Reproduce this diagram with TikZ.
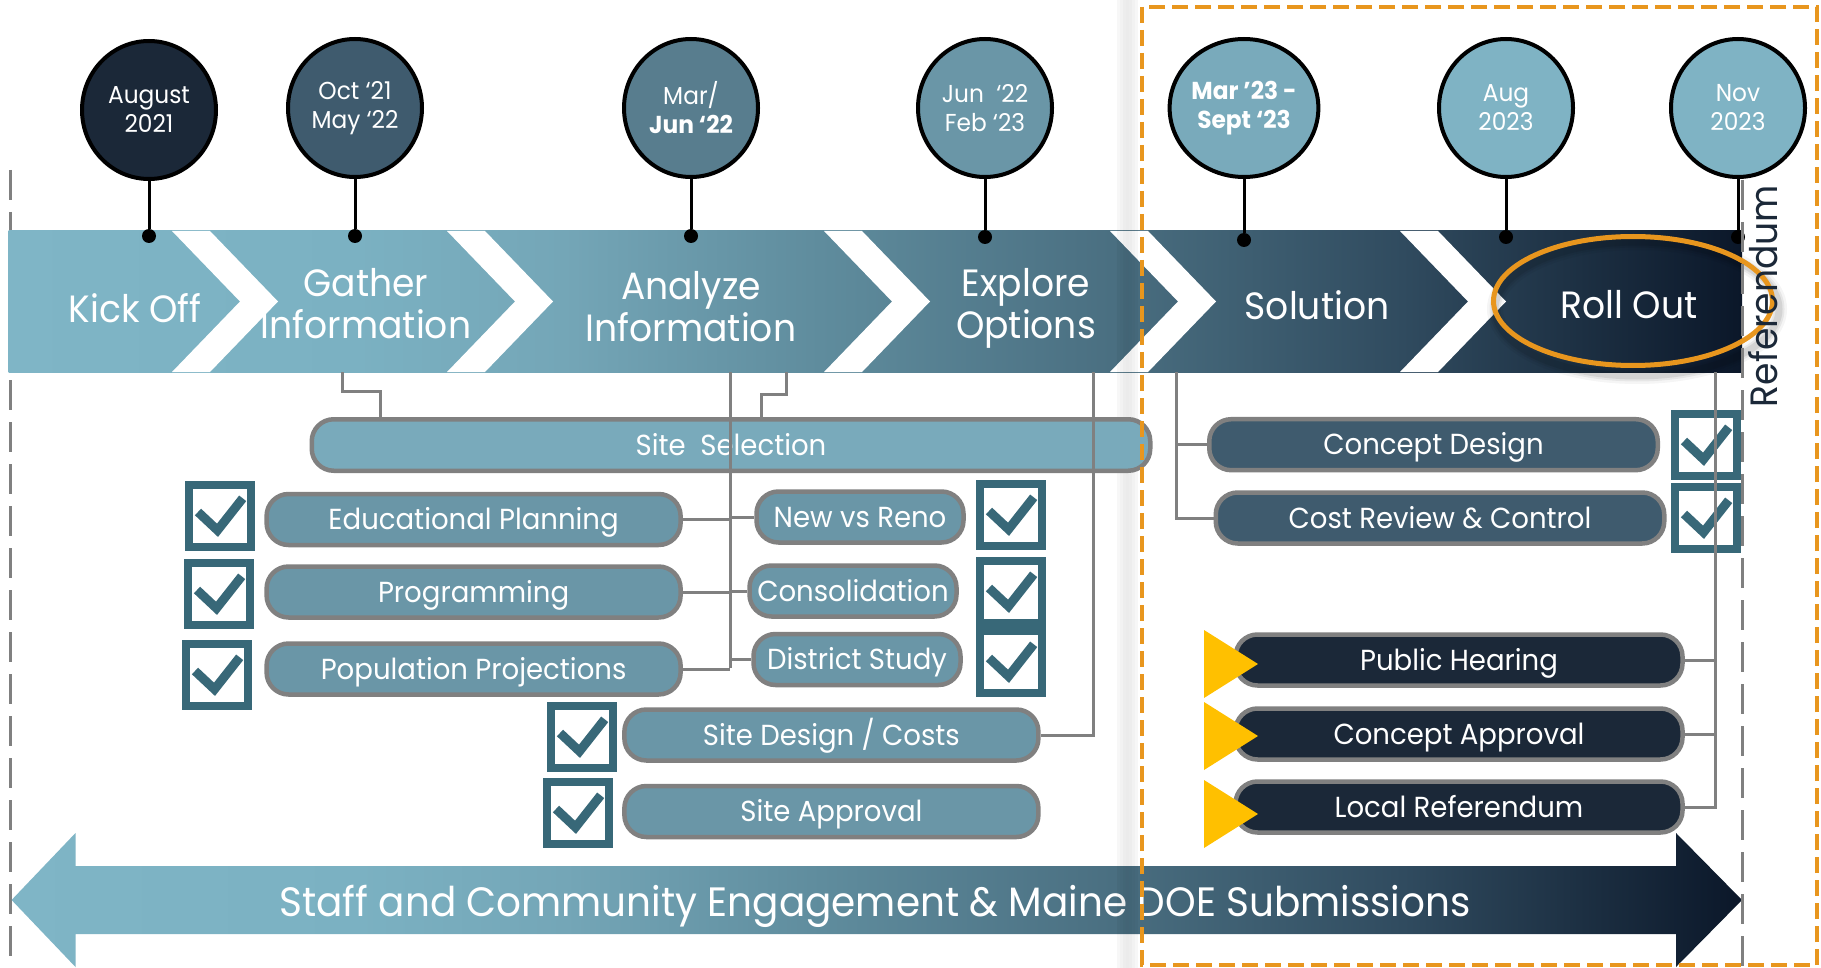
\documentclass[tikz,border=0pt]{standalone}
\usepackage{fontspec}
\setmainfont[FakeStretch=0.95]{Poppins}
\usetikzlibrary{shapes.geometric,calc}
\definecolor{bA}{HTML}{7FB5C6}
\definecolor{bB}{HTML}{7BB1C2}
\definecolor{bC}{HTML}{74A6B7}
\definecolor{bD}{HTML}{5F8C9D}
\definecolor{bE}{HTML}{4A6F81}
\definecolor{bF}{HTML}{304B5F}
\definecolor{bG}{HTML}{0B1729}
\definecolor{navy}{HTML}{1B2838}
\definecolor{slate}{HTML}{3F5B6E}
\definecolor{steel}{HTML}{587D8E}
\definecolor{tealg}{HTML}{6A96A7}
\definecolor{teall}{HTML}{79AABB}
\definecolor{teallt}{HTML}{7FB3C4}
\definecolor{chk}{HTML}{386878}
\definecolor{lgray}{HTML}{808080}
\definecolor{orng}{HTML}{E8961E}
\definecolor{gold}{HTML}{FFC000}
\pgfdeclarehorizontalshading{bandsh}{100bp}{color(0bp)=(bA); color(25bp)=(bA); color(35bp)=(bB); color(41bp)=(bC); color(48.4bp)=(bD); color(56.8bp)=(bE); color(65.2bp)=(bF); color(75bp)=(bG); color(100bp)=(bG)}
\newcommand\bandfont{\fontsize{38}{42}\selectfont}
\newcommand\datefont{\fontsize{24.5}{29}\selectfont}
\newcommand\boxfont{\fontsize{29}{32}\selectfont}
\newcommand\arrowfont{\fontsize{41}{44}\selectfont}
\newcommand\reffont{\fontsize{38}{42}\selectfont}
\tikzset{
  conn/.style={draw=lgray, line width=3pt},
  stem/.style={draw=black, line width=3pt},
  dot/.style={circle, fill=black, minimum size=14pt, inner sep=0pt},
  datebub/.style={ellipse, draw=black, line width=4pt, minimum width=134pt, minimum height=138pt, inner sep=0pt, text=white, align=center, font=\datefont},
  bandtxt/.style={text=white, align=center, font=\bandfont, inner sep=0pt},
  box/.style={rounded corners=22pt, draw=lgray, line width=4.5pt, text=white, font=\boxfont, inner sep=0pt, text height=20.5pt, text depth=0pt},
  chkbox/.style={draw=chk, line width=8pt, fill=white, minimum width=62pt, minimum height=62pt, inner sep=0pt,
    path picture={\draw[chk, line width=9pt, line join=miter]
      ([shift={(9,27)}]path picture bounding box.north west) --
      ([shift={(28.5,45.3)}]path picture bounding box.north west) --
      ([shift={(53.7,13.3)}]path picture bounding box.north west);}},
  goldtri/.style={fill=gold},
  gdash/.style={draw=lgray, line width=3pt, dash pattern=on 30pt off 12pt}
}
\begin{document}
\begin{tikzpicture}[x=1pt,y=-1pt]
\useasboundingbox[fill=white] (0,0) rectangle (1821,968);
% left dashed line
\draw[gdash] (10,170) -- (10,968);
% chevron band
\shade[shading=bandsh] (8.7,231) rectangle (1742,372);
\foreach \a in {172,447,824,1110,1400}{
  \fill[white] (\a,231) -- (\a+38,231) -- (\a+106,301.5) -- (\a+38,372) -- (\a,372) -- (\a+68,301.5) -- cycle;
}
% bottom arrow
\shade[shading=bandsh] (11.6,900) -- (75.5,833) -- (75.5,866) -- (1676,866) -- (1676,833) -- (1742,900) -- (1676,967) -- (1676,934) -- (75.5,934) -- (75.5,967) -- cycle;
\node[text=white, font=\arrowfont, inner sep=0pt] (engage) at (875,906) {Staff and Community Engagement \& Maine DOE Submissions};
% soft shadow strip
\foreach \d/\op in {-9/0.03,-6/0.05,-3/0.07,0/0.08,3/0.07,6/0.05,9/0.03}{
  \draw[black, opacity=\op, line width=3pt] (1127+\d,0) -- (1127+\d,968);
}
% band texts
\node[bandtxt] (kick) at (135,308) {Kick Off};
\node[bandtxt] (gather) at (366,304) {Gather\\Information};
\node[bandtxt] (analyze) at (691,307) {Analyze\\Information};
\node[bandtxt] (explore) at (1026,308) {Explore\\Options};
\node[bandtxt] (solution) at (1317,305) {Solution};
% date bubbles
\node[datebub, fill=navy] (d1) at (149,110) {August\\2021};
\node[datebub, fill=slate] (d2) at (355,108) {Oct `21\\May `22};
\node[datebub, fill=steel] (d3) at (691,108) {Mar/\\\textbf{Jun `22}};
\node[datebub, fill=tealg] (d4) at (985,108) {Jun~~`22\\Feb `23};
\node[datebub, fill=teall] (d5) at (1244,108) {\textbf{Mar '23 -}\\\textbf{Sept `23}};
\node[datebub, fill=teallt] (d6) at (1506,108) {Aug\\2023};
\node[datebub, fill=teallt] (d7) at (1738,108) {Nov\\2023};
\node[dot] (p1) at (149,236) {};
\node[dot] (p2) at (355,236) {};
\node[dot] (p3) at (691,236) {};
\node[dot] (p4) at (985,237) {};
\node[dot] (p5) at (1244,240) {};
\node[dot] (p6) at (1506,237) {};
\node[dot] (p7) at (1738,237) {};
\foreach \i in {1,...,7}{\draw[stem] (d\i) -- (p\i);}
% band bottom points
\coordinate (gb) at (342,372);
\coordinate (ab1) at (730,372);
\coordinate (ab2) at (786,372);
\coordinate (eb) at (1093,372);
\coordinate (sb) at (1176,372);
\coordinate (rb) at (1715,372);
% boxes
\node[box, fill=teall, minimum width=838.5pt, minimum height=51.5pt] (site) at (731,445) {Site~~Selection};
\node[box, fill=tealg, minimum width=414pt, minimum height=51pt] (edu) at (473.6,519.5) {Educational Planning};
\node[box, fill=tealg, minimum width=414pt, minimum height=51pt] (prog) at (473.6,592) {Programming};
\node[box, fill=tealg, minimum width=414pt, minimum height=51pt] (pop) at (473.6,669) {Population Projections};
\node[box, fill=tealg, minimum width=207pt, minimum height=51pt] (reno) at (860,517) {New vs Reno};
\node[box, fill=tealg, minimum width=207pt, minimum height=51pt] (cons) at (853,591) {Consolidation};
\node[box, fill=tealg, minimum width=207pt, minimum height=51pt] (dist) at (857,659.5) {District Study};
\node[box, fill=tealg, minimum width=414pt, minimum height=51pt] (sdes) at (831.4,735) {Site Design / Costs};
\node[box, fill=tealg, minimum width=414pt, minimum height=51pt] (sapp) at (831.4,811.5) {Site Approval};
\node[box, fill=slate, minimum width=448.5pt, minimum height=51pt] (cdes) at (1433.5,444.7) {Concept Design};
\node[box, fill=slate, minimum width=448.5pt, minimum height=51pt] (cost) at (1440,518) {Cost Review \& Control};
\node[box, fill=navy, minimum width=447pt, minimum height=51pt] (pub) at (1459,660) {Public Hearing};
\node[box, fill=navy, minimum width=447pt, minimum height=51pt] (capp) at (1459,734) {Concept Approval};
\node[box, fill=navy, minimum width=447pt, minimum height=51pt] (lref) at (1459,807) {Local Referendum};
% connectors
\draw[conn] (gb) -- ++(0,19) -| (site.north -| 380,0);
\draw[conn] (ab2) -- ++(0,22) -| (site.north -| 761,0);
\draw[conn] (ab1) -- (730,668);
\draw[conn] (edu.east) -- (edu.east -| ab1);
\draw[conn] (prog.east) -- (prog.east -| ab1);
\draw[conn] (pop.east) -- (pop.east -| ab1);
\draw[conn] (reno.west -| ab1) -- (reno.west);
\draw[conn] (cons.west -| ab1) -- (cons.west);
\draw[conn] (dist.west -| ab1) -- (dist.west);
\draw[conn] (eb) |- (sdes.east);
\draw[conn] (sb) |- (cost.west);
\draw[conn] (cdes.west -| sb) -- (cdes.west);
% check boxes
\node[chkbox] (k1) at (220,516) {};
\node[chkbox] (k2) at (219,594) {};
\node[chkbox] (k3) at (217,675) {};
\node[chkbox] (k4) at (1011,515) {};
\node[chkbox] (k5) at (1011,592) {};
\node[chkbox] (k6) at (1011,662) {};
\node[chkbox] (k7) at (582,737) {};
\node[chkbox] (k8) at (578,813) {};
\node[chkbox] (k9) at (1706,445) {};
\node[chkbox] (k10) at (1706,518) {};
% roll out connectors
\draw[conn] (rb) |- (lref.east);
\draw[conn] (pub.east) -- (pub.east -| rb);
\draw[conn] (capp.east) -- (capp.east -| rb);
% gold triangles
\fill[goldtri] (1204,630) -- (1258,664) -- (1204,698) -- cycle;
\fill[goldtri] (1204,702) -- (1258,736) -- (1204,770) -- cycle;
\fill[goldtri] (1204,780) -- (1258,814) -- (1204,848) -- cycle;
% roll out text and highlight
\foreach \w/\op in {16/0.04,11/0.06,7/0.08}{
  \draw[black, opacity=\op, line width=\w pt] (1637,309) ellipse (142 and 67);
}
\node[bandtxt] (roll) at (1629,305) {Roll Out};
\node[ellipse, draw=orng, line width=5pt, minimum width=279pt, minimum height=129pt, inner sep=0pt] (rollring) at (1633,301) {};
% right dashed line and referendum
\draw[gdash] (1742,180) -- (1742,968);
\node[rotate=90, text=navy, font=\reffont, inner sep=0pt] (refer) at (1763,296) {Referendum};
% orange frame
\draw[orng, line width=4pt, dash pattern=on 16pt off 7pt] (1142,7) rectangle (1817,965);
\end{tikzpicture}
\end{document}
